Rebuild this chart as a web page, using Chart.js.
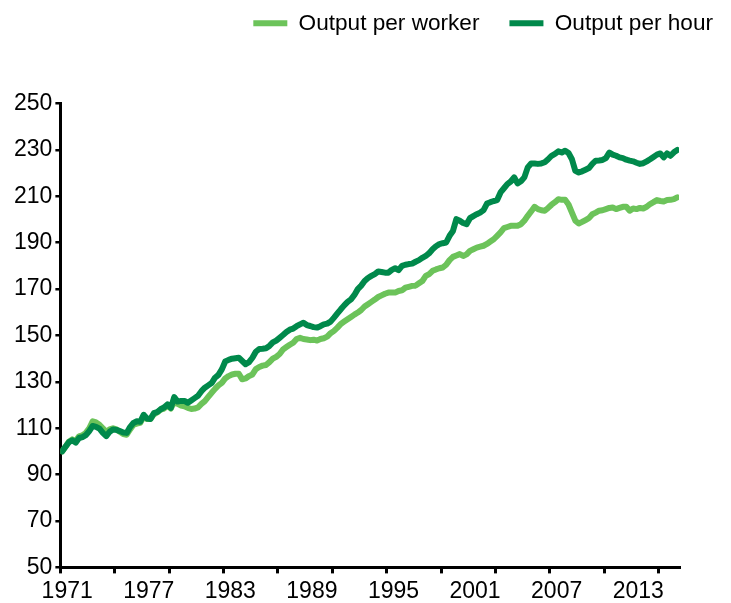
<!DOCTYPE html>
<html lang="en">
<head>
  <meta charset="UTF-8">
  <title>Output per worker and output per hour</title>
  <script src="https://cdn.jsdelivr.net/npm/chart.js"></script>
  <style>
    html, body { margin: 0; padding: 0; background: #fff; }
    #wrap { width: 731px; height: 603px; }
  </style>
</head>
<body>
  <div id="wrap"><canvas id="grafica" width="731" height="603"></canvas></div>

  <script>
    // quarterly index, 1971 Q1 = 100
    const startYear = 1971;
    const tickYears = [1971, 1975, 1979, 1983, 1987, 1991, 1995, 1999, 2003, 2007, 2011, 2015];
    const labelYears = [1971, 1977, 1983, 1989, 1995, 2001, 2007, 2013];
    const yTicks = [50, 70, 90, 110, 130, 150, 170, 190, 210, 230, 250];

    const perWorker = [
      100.0, 102.0, 104.2, 105.2,  104.5, 106.5, 107.0, 108.0,  110.0, 113.0, 112.5, 111.5,
      110.0, 108.4, 109.5, 110.0,  109.5, 108.5, 107.5, 107.2,  109.5, 111.5, 112.0, 112.3,
      115.0, 114.0, 114.0, 116.0,  116.8, 118.0, 118.5, 119.8,  118.5, 121.5, 120.5, 119.8,
      119.5, 118.8, 118.3, 118.5,  119.0, 120.5, 121.7, 123.5,  125.3, 127.0, 128.5, 129.6,
      131.5, 132.5, 133.2, 133.5,  133.5, 131.1, 131.5, 132.5,  133.2, 135.5, 136.4, 137.0,
      137.3, 138.5, 140.0, 140.8,  142.0, 144.0, 145.0, 146.0,  146.9, 148.5, 149.0, 148.5,
      148.3, 148.0, 148.2, 147.8,  148.5, 148.8, 149.5, 151.0,  152.0, 153.4, 155.0, 156.0,
      157.0, 158.0, 159.0, 159.9,  161.0, 162.5, 163.5, 164.5,  165.5, 166.6, 167.3, 168.0,
      168.5, 168.5, 168.5, 169.2,  169.5, 170.6, 171.0, 171.4,  171.5, 172.5, 173.5, 175.7,
      176.5, 177.9, 178.5, 179.0,  179.3, 180.5, 182.5, 183.9,  184.5, 185.1, 184.3, 185.0,
      186.5, 187.2, 187.9, 188.3,  188.7, 189.5, 190.5, 191.5,  193.0, 194.5, 196.3, 196.8,
      197.3, 197.3, 197.3, 198.0,  199.5, 201.6, 203.5, 205.5,  204.5, 204.0, 203.8, 205.0,
      206.4, 207.5, 208.8, 208.5,  208.5, 206.5, 203.0, 199.5,  198.3, 199.0, 199.8, 200.6,
      202.3, 203.0, 203.8, 204.0,  204.5, 205.0, 205.2, 204.5,  205.0, 205.5, 205.5, 203.8,
      204.8, 204.5, 205.0, 204.8,  205.5, 206.7, 207.5, 208.4,  208.0, 207.8, 208.4, 208.5,
      208.8, 209.6
    ];

    const perHour = [
      100.0, 102.0, 104.0, 104.8,  103.8, 105.8, 106.2, 107.0,  108.8, 111.0, 110.6, 109.8,
      108.0, 106.6, 108.5, 109.5,  109.3, 108.8, 108.2, 108.0,  110.5, 112.3, 113.0, 112.8,
      115.8, 114.2, 114.0, 116.5,  117.0, 118.2, 119.0, 120.3,  118.8, 123.4, 121.5, 121.8,
      121.8, 121.0, 122.0, 123.0,  124.0, 126.0, 127.5, 128.5,  129.5, 131.8, 133.0, 135.4,
      138.8, 139.5, 140.0, 140.2,  140.4, 139.0, 137.6, 138.5,  140.4, 143.0, 144.2, 144.3,
      144.5, 145.5, 147.0, 147.8,  149.0, 150.2, 151.5, 152.5,  153.0, 154.0, 154.8, 155.5,
      154.5, 154.1, 153.6, 153.4,  154.0, 154.8, 155.1, 156.0,  157.7, 159.5, 161.3, 163.0,
      164.5, 165.6, 167.5, 170.0,  171.5, 173.5, 174.8, 175.7,  176.5, 177.6, 177.4, 177.1,
      177.1, 178.3, 179.0, 178.2,  180.0, 180.5, 180.8, 181.0,  181.8, 182.5, 183.5, 184.3,
      185.5, 187.2, 188.5, 189.4,  189.8, 190.1, 193.0, 195.1,  200.2, 199.5, 198.5, 198.0,
      200.6, 201.5, 202.3, 203.0,  204.1, 206.9, 207.5, 208.0,  208.4, 211.7, 213.5, 215.3,
      216.4, 218.2, 215.6, 216.5,  218.2, 222.5, 224.2, 224.2,  224.0, 224.2, 224.7, 226.0,
      227.5, 228.3, 229.4, 228.9,  229.7, 228.7, 226.0, 221.0,  220.3, 220.8, 221.5, 222.2,
      224.0, 225.4, 225.5, 225.7,  226.5, 228.9, 228.0, 227.5,  226.8, 226.5, 225.8, 225.4,
      225.1, 224.5, 224.0, 224.3,  225.1, 226.0, 227.0, 228.0,  228.5, 226.8, 228.5, 227.5,
      229.0, 230.0
    ];

    // each quarter sits at its mid point on the time axis
    const toPoints = arr => arr.map((v, i) => ({ x: startYear + (i + 0.5) / 4, y: v }));

    Chart.defaults.font.family = "'Liberation Sans', Arial, sans-serif";
    Chart.defaults.color = '#000';

    // extra room between legend and plot
    const legendGap = {
      id: 'legendGap',
      beforeInit(chart) {
        const fit = chart.legend.fit;
        chart.legend.fit = function () { fit.call(this); this.height += 59; };
      }
    };

    new Chart(document.getElementById('grafica'), {
      type: 'line',
      data: {
        datasets: [
          {
            label: 'Output per worker',
            data: toPoints(perWorker),
            borderColor: '#6CC35A',
            backgroundColor: '#6CC35A',
            borderWidth: 6,
            borderCapStyle: 'round',
            borderJoinStyle: 'round',
            pointRadius: 0,
            order: 2
          },
          {
            label: 'Output per hour',
            data: toPoints(perHour),
            borderColor: '#00894B',
            backgroundColor: '#00894B',
            borderWidth: 6,
            borderCapStyle: 'round',
            borderJoinStyle: 'round',
            pointRadius: 0,
            order: 1
          }
        ]
      },
      options: {
        responsive: false,
        animation: false,
        events: [],
        layout: { padding: { top: -18, right: -12, left: 11, bottom: -6 } },
        plugins: {
          tooltip: { enabled: false },
          legend: {
            position: 'top',
            align: 'end',
            labels: {
              usePointStyle: true,
              pointStyle: 'line',
              pointStyleWidth: 34,
              padding: 30,
              font: { size: 22.6 },
              color: '#000',
              sort: (a, b) => a.datasetIndex - b.datasetIndex
            }
          }
        },
        scales: {
          x: {
            type: 'linear',
            min: 1971,
            max: 2016.5,
            afterBuildTicks: s => { s.ticks = tickYears.map(v => ({ value: v })); },
            ticks: { display: false },
            grid: { drawOnChartArea: false, drawTicks: true, tickLength: 6, color: '#000', lineWidth: 3 },
            border: { display: true, color: '#000', width: 3 }
          },
          xLabels: {
            type: 'linear',
            position: 'bottom',
            weight: 1,
            min: 1971,
            max: 2016.5,
            afterBuildTicks: s => { s.ticks = labelYears.map(v => ({ value: v + 0.5 })); },
            ticks: {
              autoSkip: false,
              maxRotation: 0,
              padding: 4,
              font: { size: 23 },
              callback: v => String(Math.floor(v))
            },
            grid: { display: false, drawTicks: false },
            border: { display: false }
          },
          y: {
            min: 50,
            max: 250,
            afterBuildTicks: s => { s.ticks = yTicks.map(v => ({ value: v })); },
            ticks: { padding: 3, font: { size: 23 } },
            grid: { drawOnChartArea: false, drawTicks: true, tickLength: 5, color: '#000', lineWidth: 2.5 },
            border: { display: true, color: '#000', width: 3 }
          },
          ySpace: {
            position: 'right',
            display: true,
            ticks: { display: false },
            grid: { display: false, drawTicks: false },
            border: { display: false },
            afterFit: s => { s.width = 64; }
          }
        }
      },
      plugins: [legendGap]
    });
  </script>
</body>
</html>
